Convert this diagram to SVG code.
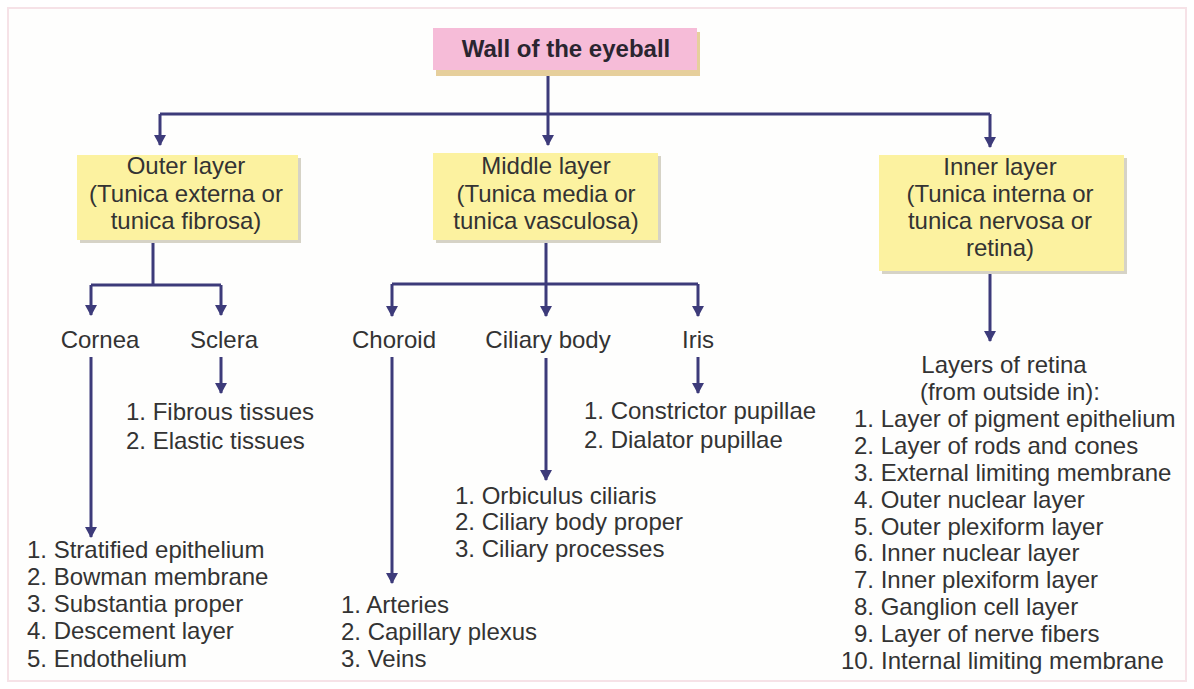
<svg xmlns="http://www.w3.org/2000/svg" width="1194" height="689" viewBox="0 0 1194 689">
<style>
text{font-family:"Liberation Sans",Arial,sans-serif;font-size:24px;fill:#333333}
.c{text-anchor:middle}
.b{font-weight:bold;fill:#2a2530}
.box{fill:#fcf2a0}
.sh{fill:#d6d3c6}
.ln{fill:none;stroke:#3d3b7a;stroke-width:3}
</style>
<defs>
<marker id="ah" markerUnits="userSpaceOnUse" markerWidth="12" markerHeight="12" refX="10" refY="6" orient="auto">
<path d="M0,0 L11,6 L0,12 z" fill="#3d3b7a"/>
</marker>
</defs>
<rect x="0" y="0" width="1194" height="689" fill="#ffffff"/>
<rect x="8" y="8" width="1178" height="673" fill="#fefefd" stroke="#f6e2e7" stroke-width="2"/>

<g id="connectors">
<path class="ln" d="M548,72 V114"/>
<path class="ln" d="M160,114 H990"/>
<path class="ln" d="M160,114 V145" marker-end="url(#ah)"/>
<path class="ln" d="M548,114 V145" marker-end="url(#ah)"/>
<path class="ln" d="M990,114 V147" marker-end="url(#ah)"/>
<path class="ln" d="M153,240 V285"/>
<path class="ln" d="M91,285 H221"/>
<path class="ln" d="M91,285 V315" marker-end="url(#ah)"/>
<path class="ln" d="M221,285 V315" marker-end="url(#ah)"/>
<path class="ln" d="M546,240 V284"/>
<path class="ln" d="M392,284 H698"/>
<path class="ln" d="M392,284 V316" marker-end="url(#ah)"/>
<path class="ln" d="M546,284 V316" marker-end="url(#ah)"/>
<path class="ln" d="M698,284 V316" marker-end="url(#ah)"/>
<path class="ln" d="M91,357 V537" marker-end="url(#ah)"/>
<path class="ln" d="M221,357 V393" marker-end="url(#ah)"/>
<path class="ln" d="M392,357 V583" marker-end="url(#ah)"/>
<path class="ln" d="M546,358 V480" marker-end="url(#ah)"/>
<path class="ln" d="M698,357 V393" marker-end="url(#ah)"/>
<path class="ln" d="M990,271 V341" marker-end="url(#ah)"/>
</g>

<g id="wall">
<rect x="436" y="32" width="264" height="44" fill="#e6cf9c"/>
<rect x="433" y="28" width="264" height="42" fill="#f6bcd8"/>
<text class="c b" x="566" y="57">Wall of the eyeball</text>
</g>

<g id="outer">
<rect class="sh" x="80" y="158" width="221" height="85"/>
<rect class="box" x="77" y="155" width="221" height="85"/>
<text class="c" x="186" y="174">Outer layer</text>
<text class="c" x="186" y="202">(Tunica externa or</text>
<text class="c" x="186" y="229">tunica fibrosa)</text>
</g>

<g id="middle">
<rect class="sh" x="436" y="156" width="225" height="87"/>
<rect class="box" x="433" y="153" width="225" height="87"/>
<text class="c" x="546" y="174">Middle layer</text>
<text class="c" x="546" y="202">(Tunica media or</text>
<text class="c" x="546" y="229">tunica vasculosa)</text>
</g>

<g id="inner">
<rect class="sh" x="882" y="158" width="245" height="116"/>
<rect class="box" x="879" y="155" width="245" height="116"/>
<text class="c" x="1000" y="175">Inner layer</text>
<text class="c" x="1000" y="202">(Tunica interna or</text>
<text class="c" x="1000" y="229">tunica nervosa or</text>
<text class="c" x="1000" y="256">retina)</text>
</g>

<g id="cornea">
<text class="c" x="100" y="348">Cornea</text>
</g>
<g id="sclera">
<text class="c" x="224" y="348">Sclera</text>
</g>
<g id="sclera-list">
<text x="126" y="420">1. Fibrous tissues</text>
<text x="126" y="449">2. Elastic tissues</text>
</g>
<g id="cornea-list">
<text x="27" y="558">1. Stratified epithelium</text>
<text x="27" y="585">2. Bowman membrane</text>
<text x="27" y="612">3. Substantia proper</text>
<text x="27" y="639">4. Descement layer</text>
<text x="27" y="667">5. Endothelium</text>
</g>

<g id="choroid">
<text class="c" x="394" y="348">Choroid</text>
</g>
<g id="ciliary">
<text class="c" x="548" y="348">Ciliary body</text>
</g>
<g id="iris">
<text class="c" x="698" y="348">Iris</text>
</g>
<g id="iris-list">
<text x="584" y="419">1. Constrictor pupillae</text>
<text x="584" y="448">2. Dialator pupillae</text>
</g>
<g id="ciliary-list">
<text x="455" y="504">1. Orbiculus ciliaris</text>
<text x="455" y="530">2. Ciliary body proper</text>
<text x="455" y="557">3. Ciliary processes</text>
</g>
<g id="choroid-list">
<text x="341" y="613">1. Arteries</text>
<text x="341" y="640">2. Capillary plexus</text>
<text x="341" y="667">3. Veins</text>
</g>

<g id="retina">
<text class="c" x="1004" y="373">Layers of retina</text>
<text class="c" x="1010" y="400">(from outside in):</text>
<text x="854" y="427">1. Layer of pigment epithelium</text>
<text x="854" y="454">2. Layer of rods and cones</text>
<text x="854" y="481">3. External limiting membrane</text>
<text x="854" y="508">4. Outer nuclear layer</text>
<text x="854" y="535">5. Outer plexiform layer</text>
<text x="854" y="561">6. Inner nuclear layer</text>
<text x="854" y="588">7. Inner plexiform layer</text>
<text x="854" y="615">8. Ganglion cell layer</text>
<text x="854" y="642">9. Layer of nerve fibers</text>
<text x="841" y="669">10. Internal limiting membrane</text>
</g>
</svg>
